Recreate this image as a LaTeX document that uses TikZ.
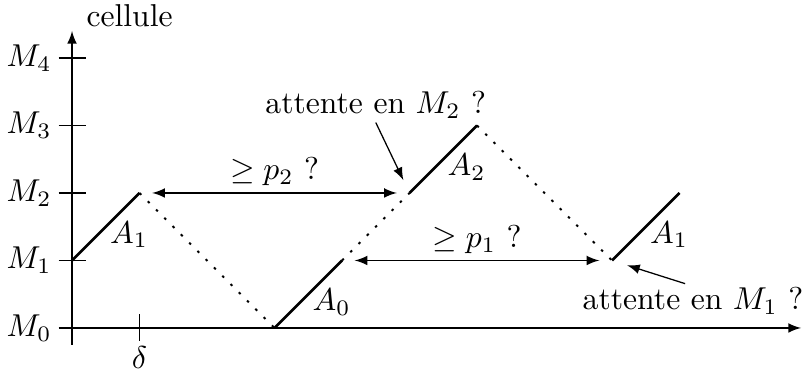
\documentclass[tikz,border=0pt]{standalone}
\usepackage{amsmath, amssymb}
\usepackage{tikz}
\usetikzlibrary{arrows.meta}

\begin{document}
\begin{tikzpicture}[
        x=0.75cm, y=0.75cm,
        >=latex,
        seg/.style={thick},
        wait/.style={line width=0.6pt, dash pattern=on 0.8pt off 2.9pt},
        gap/.style={<->, shorten >=4pt, shorten <=4pt},
        alab/.style={anchor=west, inner sep=1pt, yshift=-2.5pt},
        note/.style={inner sep=1pt}
    ]
    \useasboundingbox (-1.067,-0.667) rectangle (10.874,4.859);

    % axes
    \draw[->] (0,-0.25) -- (0,4.4) coordinate (ytip);
    \draw[->] (0,0) -- (10.8,0) coordinate (xtip);
    \node[anchor=west] (cel) at (0.05,4.62) {cellule};
    \foreach \i in {0,...,4}
        \draw (-0.2,\i) node[left, inner sep=2pt] (m\i) {$M_\i$} -- (0.2,\i);
    \draw (1,0.2) -- (1,-0.2) node[below, inner sep=1.5pt] (delta) {$\delta$};

    % points of the schedule
    \coordinate (p0) at (0,1);
    \coordinate (p1) at (1,2);
    \coordinate (p2) at (3,0);
    \coordinate (p3) at (4,1);
    \coordinate (p4) at (5,2);
    \coordinate (p5) at (6,3);
    \coordinate (p6) at (8,1);
    \coordinate (p7) at (9,2);

    \draw[seg] (p0) -- node[alab] {$A_1$} (p1);
    \draw[wait] (p1) -- (p2);
    \draw[seg] (p2) -- node[alab] {$A_0$} (p3);
    \draw[wait] (p3) -- (p4);
    \draw[seg] (p4) -- node[alab] {$A_2$} (p5);
    \draw[wait] (p5) -- (p6);
    \draw[seg] (p6) -- node[alab] {$A_1$} (p7);

    % delays
    \draw[gap] (p1) -- node[above, inner sep=2pt] {$\geq p_2$ ?} (p4);
    \draw[gap] (p3) -- node[above, inner sep=2pt] {$\geq p_1$ ?} (p6);

    \node[note] (att2) at (4.5,3.3) {attente en $M_2$ ?};
    \node[note] (att1) at (9.2,0.4) {attente en $M_1$ ?};
    \draw[->, shorten >=4.5pt] (att2.south) -- (p4);
    \draw[->, shorten >=5pt] ([xshift=-2.5pt]att1.north) -- (p6);
\end{tikzpicture}
\end{document}
